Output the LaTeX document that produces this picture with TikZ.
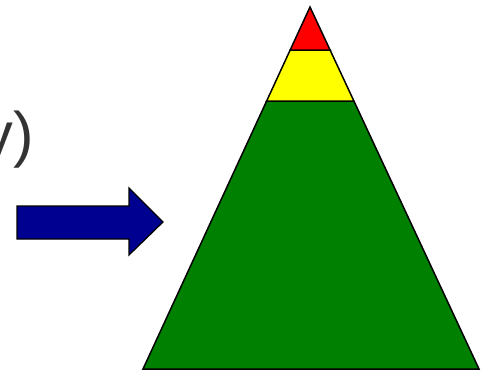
\documentclass[tikz,border=0pt]{standalone}
\usepackage{fontspec}
\setmainfont{Liberation Sans}
\usetikzlibrary{calc}
\definecolor{tipFill}{HTML}{FF0000}
\definecolor{midFill}{HTML}{FFFF00}
\definecolor{baseFill}{HTML}{008000}
\definecolor{arrowFill}{HTML}{000090}
\definecolor{textGray}{HTML}{333333}

\begin{document}
\begin{tikzpicture}[
    x=0.02cm, y=-0.02cm,
    layer/.style={draw=black, line width=0.85pt, line join=miter},
    bigarrow/.style={draw=black, line width=0.7pt, fill=arrowFill},
    caption/.style={font=\fontsize{35}{40}\selectfont, text=textGray, inner sep=0pt},
  ]
\useasboundingbox (0,0) rectangle (489,372);
\clip (0,0) rectangle (489,372);

% ===== Pyramid =====
\coordinate (pTop) at (310,7);
\coordinate (pL) at (143,369);
\coordinate (pR) at (479,369);
\coordinate (rL) at ($(pTop)!0.119!(pL)$);
\coordinate (rR) at ($(pTop)!0.119!(pR)$);
\coordinate (yL) at ($(pTop)!0.260!(pL)$);
\coordinate (yR) at ($(pTop)!0.260!(pR)$);

\filldraw[layer, fill=baseFill] (yL) -- (yR) -- (pR) -- (pL) -- cycle;
\filldraw[layer, fill=midFill] (rL) -- (rR) -- (yR) -- (yL) -- cycle;
\filldraw[layer, fill=tipFill] (pTop) -- (rR) -- (rL) -- cycle;

% ===== Arrow =====
\filldraw[bigarrow] (17,206) -- (129,206) -- (129,188) -- (163,222)
  -- (129,255) -- (129,239) -- (17,239) -- cycle;

% Text (cut off at the left)
\node[caption, anchor=base east] (capTail) at (34,155) {y)};

\end{tikzpicture}
\end{document}
